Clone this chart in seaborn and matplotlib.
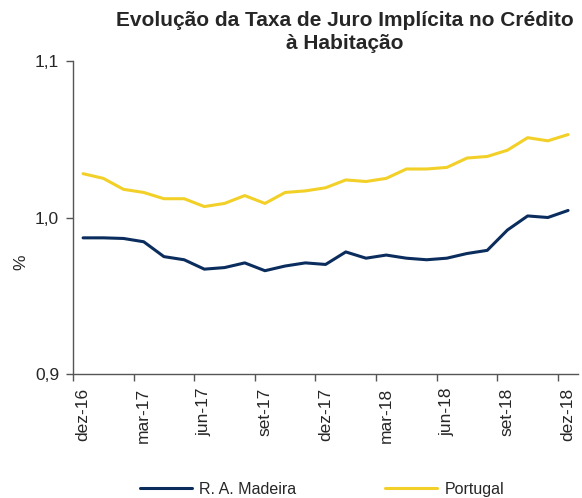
import matplotlib
matplotlib.use("Agg")
import matplotlib.pyplot as plt
import seaborn as sns
import pandas as pd
from matplotlib.ticker import FuncFormatter

months = ["dez-16", "jan-17", "fev-17", "mar-17", "abr-17", "mai-17", "jun-17",
          "jul-17", "ago-17", "set-17", "out-17", "nov-17", "dez-17", "jan-18",
          "fev-18", "mar-18", "abr-18", "mai-18", "jun-18", "jul-18", "ago-18",
          "set-18", "out-18", "nov-18", "dez-18"]

madeira = [0.987, 0.987, 0.9866, 0.9845, 0.975, 0.973, 0.967, 0.968, 0.971,
           0.966, 0.969, 0.971, 0.970, 0.978, 0.974, 0.976, 0.974, 0.973,
           0.974, 0.977, 0.979, 0.992, 1.001, 1.000, 1.0045]

portugal = [1.028, 1.025, 1.018, 1.016, 1.012, 1.012, 1.007, 1.009, 1.014,
            1.009, 1.016, 1.017, 1.019, 1.024, 1.023, 1.025, 1.031, 1.031,
            1.032, 1.038, 1.039, 1.043, 1.051, 1.049, 1.053]

series_names = ["R. A. Madeira", "Portugal"]
colors = ["#0B2D5E", "#F2D027"]

df = pd.DataFrame({
    "idx": list(range(len(months))) * 2,
    "valor": madeira + portugal,
    "serie": [series_names[0]] * len(months) + [series_names[1]] * len(months),
})

sns.set_style("ticks")
plt.rcParams["font.family"] = ["Liberation Sans", "DejaVu Sans"]

fig = plt.figure(figsize=(5.82, 4.98), dpi=100)
ax = fig.add_axes([0.1254, 0.249, 0.868, 0.6285])

sns.lineplot(
    data=df, x="idx", y="valor", hue="serie",
    palette=colors, linewidth=2.2, ax=ax, legend=False
)

ax.set_xlim(-0.5, len(months) - 0.5)
ax.set_ylim(0.9, 1.1)
ax.set_yticks([0.9, 1.0, 1.1])
ax.yaxis.set_major_formatter(FuncFormatter(lambda v, p: f"{v:.1f}".replace(".", ",")))

label_pos = list(range(0, len(months), 3))
ax.set_xticks(label_pos)
ax.set_xticklabels([months[i] for i in label_pos], rotation=90)
ax.set_xticks([p - 0.5 for p in label_pos], minor=True)
ax.tick_params(axis="x", which="major", length=0, pad=10, labelsize=12.5)
ax.tick_params(axis="x", which="minor", length=5, width=1, color="#555555")
ax.tick_params(axis="y", length=5, width=1, pad=5, labelsize=12.5, color="#555555")

ax.set_xlabel("")
ax.set_ylabel("")
for s in ["top", "right"]:
    ax.spines[s].set_visible(False)
for s in ["left", "bottom"]:
    ax.spines[s].set_color("#555555")
    ax.spines[s].set_linewidth(1)

fig.text(0.036, 0.474, "%", rotation=90, fontsize=12.5, ha="center", va="center")

fig.text(0.593, 0.935, "Evolução da Taxa de Juro Implícita no Crédito\nà Habitação",
         ha="center", va="center", fontsize=15, fontweight="bold", linespacing=1.25)

handles = [plt.Line2D([], [], color=c, linewidth=2.2) for c in colors]
fig.legend(handles, series_names, loc="center", bbox_to_anchor=(0.553, 0.018),
           ncol=2, frameon=False, fontsize=11.5, handlelength=3.25,
           columnspacing=5.6, handletextpad=0.45)

fig.savefig("out.png", dpi=100)
